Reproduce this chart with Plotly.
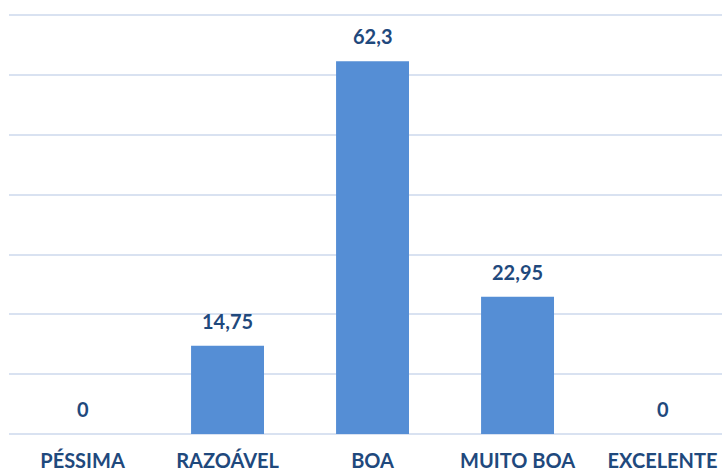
import plotly.graph_objects as go

categorias = ['PÉSSIMA', 'RAZOÁVEL', 'BOA', 'MUITO BOA', 'EXCELENTE']
valores = [0, 14.75, 62.3, 22.95, 0]
rotulos = ['0', '14,75', '62,3', '22,95', '0']

COR_BARRA = '#558ED5'
COR_TEXTO = '#1F497D'
FONTE = 'Lato'

fig = go.Figure()
fig.add_trace(go.Bar(x=categorias, y=valores, marker_color=COR_BARRA,
                     marker_line_width=0, hoverinfo='skip'))

# rótulos de dados acima das barras
for cat, val, txt in zip(categorias, valores, rotulos):
    fig.add_annotation(x=cat, y=val, text='<b>' + txt + '</b>', showarrow=False,
                       yanchor='middle', yshift=25,
                       font=dict(family=FONTE, size=20, color=COR_TEXTO))

fig.update_layout(
    width=722, height=473,
    margin=dict(l=9, r=0, t=14, b=39),
    paper_bgcolor='white', plot_bgcolor='white',
    bargap=0.497, showlegend=False,
    font=dict(family=FONTE, color=COR_TEXTO),
)
fig.update_xaxes(range=[-0.507, 4.41], showgrid=False, zeroline=False,
                 showline=False, ticks='', ticklabelstandoff=13, automargin=False,
                 tickfont=dict(family=FONTE, size=20, color=COR_TEXTO, weight='bold'))
fig.update_yaxes(range=[0, 70.2], dtick=10, showticklabels=False, showgrid=True,
                 gridcolor='#D9E2F1', gridwidth=2, zeroline=True, automargin=False,
                 zerolinecolor='#D9E2F1', zerolinewidth=2, showline=False)

# tira a margem padrão do body para o gráfico ficar no canto da janela
fig.write_html('out.html', config={'displayModeBar': False},
               post_script="document.body.style.margin='0';")
